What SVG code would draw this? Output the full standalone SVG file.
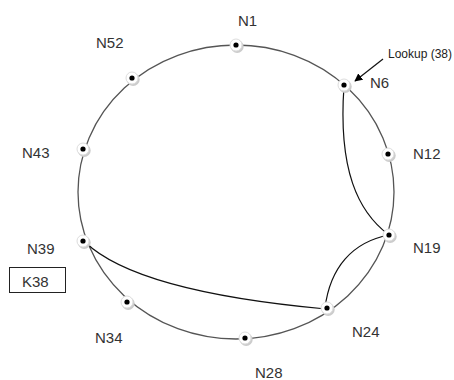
<svg xmlns="http://www.w3.org/2000/svg" width="454" height="380" viewBox="0 0 454 380">
<style>
.lbl{font-family:"Liberation Sans",Arial,sans-serif;font-size:15px;fill:#333}
.small{font-family:"Liberation Sans",Arial,sans-serif;font-size:12px;fill:#222}
.ring{fill:none;stroke:#555;stroke-width:1.3}
.edge{fill:none;stroke:#111;stroke-width:1.2}
.halo{fill:#fff;stroke:#ddd;stroke-width:1}
.shadow{fill:#ccc}
.dot{fill:#000}
</style>
<defs>
<marker id="ah" viewBox="0 0 10 10" refX="9" refY="5" markerWidth="8" markerHeight="8" orient="auto" markerUnits="userSpaceOnUse">
<path d="M0,0 L10,5 L0,10 z" fill="#000"/>
</marker>
<g id="nodeShape">
<circle class="shadow" cx="1.2" cy="1.5" r="6.5"/>
<circle class="halo" cx="0" cy="0" r="6"/>
<circle class="dot" cx="0" cy="0" r="2.6"/>
</g>
</defs>
<rect width="454" height="380" fill="#fff"/>
<ellipse class="ring" cx="236" cy="192" rx="158" ry="147"/>
<g id="connectors">
<path class="edge" d="M344,86 C338,170 358,212 389,235"/>
<path class="edge" d="M389,235 C352,242 330,268 325,308"/>
<path class="edge" d="M85,242 C118,274 195,297 326,309"/>
<path class="edge" d="M383,59 L355,81" marker-end="url(#ah)"/>
</g>
<g id="N1"><use href="#nodeShape" x="236" y="45"/><text class="lbl" x="238" y="26">N1</text></g>
<g id="N6"><use href="#nodeShape" x="344" y="85"/><text class="lbl" x="370" y="88">N6</text></g>
<g id="N12"><use href="#nodeShape" x="388" y="154"/><text class="lbl" x="413" y="159">N12</text></g>
<g id="N19"><use href="#nodeShape" x="389" y="235"/><text class="lbl" x="413" y="253">N19</text></g>
<g id="N24"><use href="#nodeShape" x="327" y="308"/><text class="lbl" x="352" y="337">N24</text></g>
<g id="N28"><use href="#nodeShape" x="245" y="338"/><text class="lbl" x="255" y="378">N28</text></g>
<g id="N34"><use href="#nodeShape" x="127" y="302"/><text class="lbl" x="95" y="343">N34</text></g>
<g id="N39"><use href="#nodeShape" x="83" y="241"/><text class="lbl" x="27" y="254">N39</text></g>
<g id="N43"><use href="#nodeShape" x="83" y="149"/><text class="lbl" x="22" y="158">N43</text></g>
<g id="N52"><use href="#nodeShape" x="132" y="78"/><text class="lbl" x="96" y="48">N52</text></g>
<g id="K38"><rect x="9.5" y="267.5" width="56" height="25" fill="#fff" stroke="#222" stroke-width="1"/><text class="lbl" x="22" y="287">K38</text></g>
<g id="lookup"><text class="small" x="388" y="58">Lookup (38)</text></g>
</svg>
